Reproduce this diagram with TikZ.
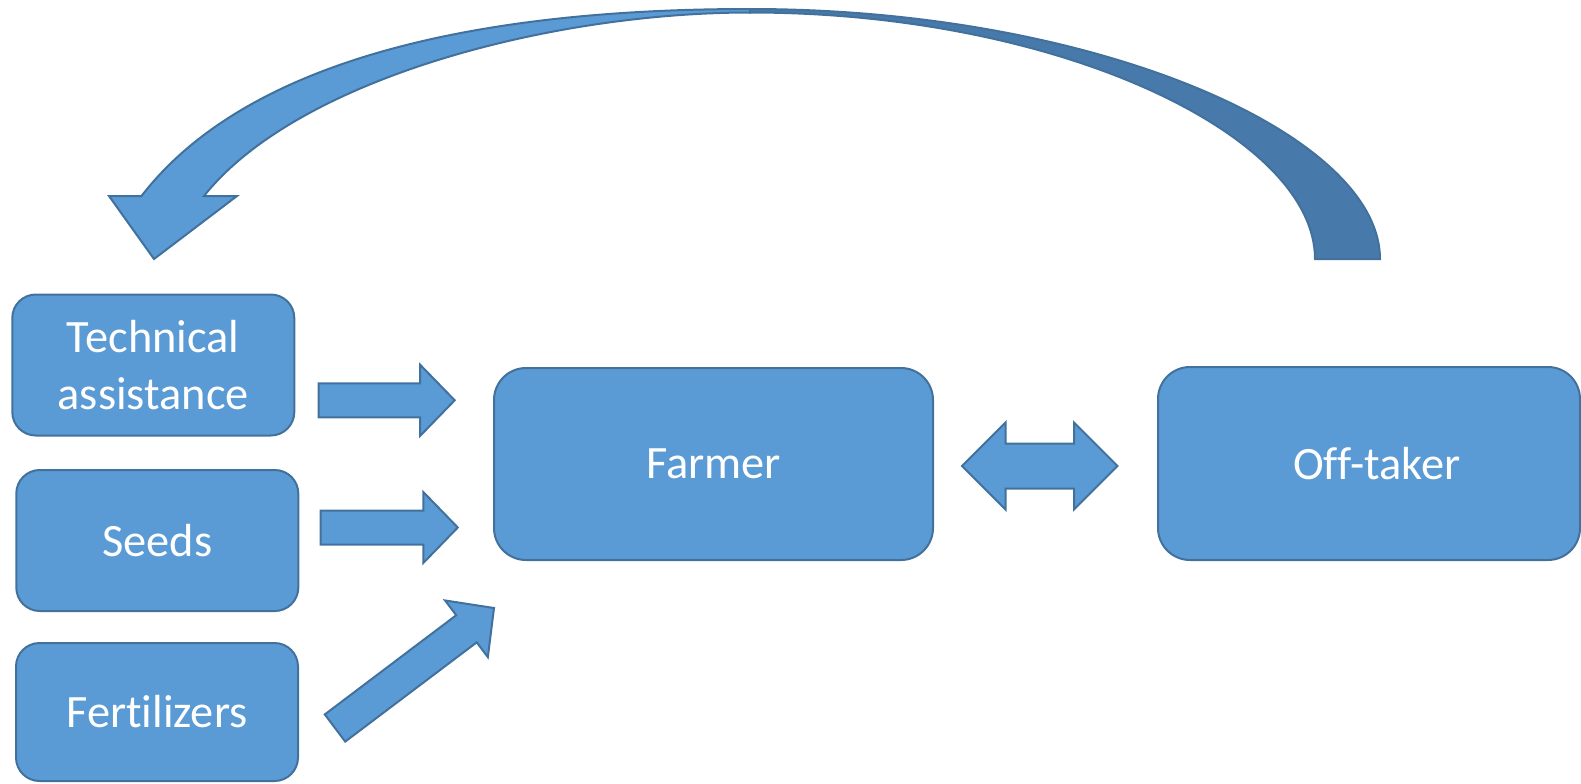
\documentclass[tikz,border=0pt]{standalone}
\usepackage{fontspec}
\setmainfont{Carlito}[Ligatures=NoCommon]
\usetikzlibrary{calc}

\definecolor{boxblue}{HTML}{5B9BD5}
\definecolor{boxline}{HTML}{41719C}
\definecolor{backblue}{HTML}{477AAA}

\tikzset{
    box/.style={draw=boxline, fill=boxblue, line width=1pt, text=white,
        align=center, inner sep=0pt, font=\fontsize{23.2}{28.3}\selectfont},
    smallbox/.style={box, minimum width=141pt, minimum height=70.5pt, rounded corners=11.75pt},
    bigbox/.style={box, minimum height=96pt, rounded corners=16pt},
    blockarrow/.style={draw=boxline, fill=boxblue, line width=1pt},
    backarrow/.style={draw=boxline, fill=backblue, line width=1pt}
}

% block arrow from #1 (tail) to #2 (tip)
\newcommand{\fatarrow}[2]{%
    \coordinate (hb) at ($(#2)!17.25pt!(#1)$);
    \draw[blockarrow] ($(#1)!8.5pt!90:(#2)$) -- ($(hb)!8.5pt!-90:(#1)$)
        -- ($(hb)!17.75pt!-90:(#1)$) -- (#2) -- ($(hb)!17.75pt!90:(#1)$)
        -- ($(hb)!8.5pt!90:(#1)$) -- ($(#1)!8.5pt!-90:(#2)$) -- cycle;
}

\begin{document}
\begin{tikzpicture}[x=0.5pt, y=-0.5pt]
    \useasboundingbox (0,0) rectangle (1581,783);

    % boxes on the left
    \node[smallbox] (tech) at (153.3,365) {Technical\\assistance};
    \node[smallbox] (seeds) at (157.3,540.5) {Seeds};
    \node[smallbox, minimum height=69pt] (fert) at (157,712) {Fertilizers};

    % farmer and off-taker
    \node[bigbox, minimum width=219.5pt] (farmer) at (713.5,464) {Farmer};
    \node[bigbox, minimum width=211pt, minimum height=96.5pt] (offtaker) at (1369,463.5) {\hspace*{8pt}Off-taker};

    % inputs to the farmer
    \coordinate (tech-tail) at (318.6,400.3);
    \coordinate (tech-tip) at (454.7,400.3);
    \coordinate (seeds-tail) at (320.6,527.5);
    \coordinate (seeds-tip) at (457.8,527.5);
    \coordinate (fert-tail) at (335,728);
    \coordinate (fert-tip) at (494,608);
    \fatarrow{tech-tail}{tech-tip}
    \fatarrow{seeds-tail}{seeds-tip}
    \fatarrow{fert-tail}{fert-tip}

    % farmer <-> off-taker
    \coordinate (dl) at (962,466);
    \coordinate (dr) at (1117.5,466);
    \draw[blockarrow] (dl) -- ++(43.5,-43.5) -- ++(0,21) -- ++(68.5,0) -- ++(0,-21)
        -- (dr) -- ++(-43.5,43.5) -- ++(0,-21) -- ++(-68.5,0) -- ++(0,21) -- cycle;

    % curved arrow back to technical assistance (back face)
    \draw[backarrow] (750,9) .. controls (1096,9) and (1380,134) .. (1380,259)
        -- (1315,259) .. controls (1315,136) and (1061,12.5) .. (750,12.5) -- cycle;

    % curved arrow (front face with head)
    \draw[blockarrow] (750,9) .. controls (450,9) and (239,69.6) .. (141.5,196)
        -- (109,196) -- (154,259) -- (237,196) -- (204,196)
        .. controls (297,79) and (550,12.5) .. (750,12.5) -- cycle;
\end{tikzpicture}
\end{document}
